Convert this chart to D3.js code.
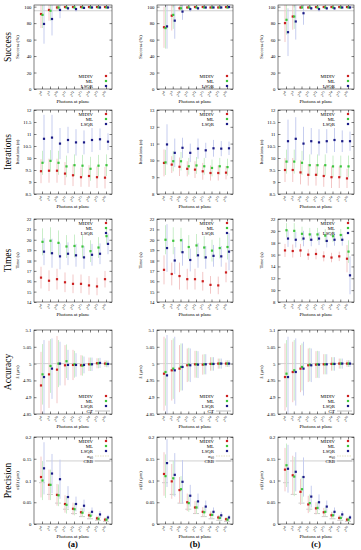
<!DOCTYPE html>
<html><head><meta charset="utf-8">
<script src="https://cdn.jsdelivr.net/npm/d3@7"></script>
<style>
body{margin:0;background:#fff}
svg{display:block;font-family:"Liberation Serif","DejaVu Serif",serif}
</style></head><body>
<svg id="chart" width="361" height="550"></svg>
<script>
// photons at plane: 2^8 ... 2^16
const exps = [8, 9, 10, 11, 12, 13, 14, 15, 16];

// each series: [mean, sd] per exponent
const succA_MIDIV = [[91,17],[96,13],[99,3],[99.5,1],[99.5,1],[99.5,1],[99.5,1],[99.5,0.5],[99.5,0.5]];
const succA_ML    = [[90,16],[95,12],[99,3],[99,1],[99,1],[99,1],[99,1],[99,1],[99,1]];
const succA_LSQR  = [[79,24],[85,20],[96,10],[98,2],[97,3],[98.5,1.5],[99,1],[99,1],[99,1]];
const succB_MIDIV = [[75,25],[89,18],[98,3],[99,1],[99.5,1],[99.5,1],[99,1],[99,1],[99.5,0.5]];
const succB_ML    = [[74,25],[90,17],[98,3],[99,1],[99,1],[99,1],[99,1],[99,1],[99,1]];
const succB_LSQR  = [[76,27],[83,22],[94,10],[97,3],[98,2],[99,1],[99,1],[99,1],[99.5,0.5]];
const succC_MIDIV = [[80,23],[88,16],[99,2],[99,1],[99.5,1],[99.5,1],[99.5,1],[99.5,1],[99.5,1]];
const succC_ML    = [[84,18],[88,15],[99,2],[99,1],[99,1],[99,1],[99,1],[99,1],[99,1]];
const succC_LSQR  = [[69,29],[82,22],[92,14],[98,2],[97,3],[98,2],[98,2],[99,1],[99,1]];

const iterA_MIDIV = [[9.45,0.5],[9.47,0.5],[9.47,0.5],[9.35,0.48],[9.28,0.45],[9.2,0.4],[9.25,0.45],[9.2,0.45],[9.18,0.45]];
const iterA_ML    = [[9.8,0.5],[9.88,0.45],[9.8,0.5],[9.65,0.45],[9.7,0.45],[9.68,0.45],[9.55,0.5],[9.68,0.45],[9.7,0.45]];
const iterA_LSQR  = [[10.8,1.0],[10.85,0.95],[10.6,0.65],[10.75,0.55],[10.65,0.55],[10.65,0.5],[10.75,0.5],[10.78,0.45],[10.68,0.35]];
const iterB_MIDIV = [[9.85,0.8],[9.75,0.5],[9.62,0.55],[9.5,0.45],[9.45,0.5],[9.35,0.5],[9.25,0.45],[9.25,0.45],[9.27,0.4]];
const iterB_ML    = [[9.88,0.75],[9.95,0.6],[9.95,0.55],[9.65,0.5],[9.7,0.5],[9.65,0.5],[9.55,0.5],[9.65,0.5],[9.6,0.5]];
const iterB_LSQR  = [[10.95,1.2],[10.45,0.85],[10.75,0.6],[10.45,0.55],[10.7,0.6],[10.6,0.45],[10.72,0.5],[10.7,0.45],[10.72,0.4]];
const iterC_MIDIV = [[9.5,0.5],[9.5,0.5],[9.4,0.5],[9.3,0.45],[9.3,0.45],[9.25,0.45],[9.2,0.45],[9.2,0.45],[9.15,0.4]];
const iterC_ML    = [[9.85,0.5],[9.85,0.5],[9.8,0.5],[9.7,0.45],[9.7,0.45],[9.7,0.45],[9.65,0.45],[9.65,0.45],[9.65,0.45]];
const iterC_LSQR  = [[10.7,0.9],[10.8,0.9],[10.6,0.7],[10.7,0.55],[10.65,0.55],[10.7,0.5],[10.75,0.5],[10.7,0.45],[10.7,0.4]];

const timeA_MIDIV = [[16.35,1.05],[16.05,1.0],[16.2,1.0],[15.9,0.95],[15.75,0.9],[15.75,0.9],[15.6,0.9],[15.5,0.85],[16.2,0.8]];
const timeA_ML    = [[19.8,1.3],[19.9,1.3],[19.7,1.2],[19.35,1.1],[19.4,1.1],[19.35,1.1],[18.9,1.05],[19.25,1.0],[20.35,0.8]];
const timeA_LSQR  = [[18.85,1.3],[18.7,1.4],[18.4,1.25],[18.65,1.1],[18.5,1.1],[18.3,1.1],[18.55,1.05],[18.65,1.0],[19.6,1.0]];
const timeB_MIDIV = [[17.1,1.4],[16.7,1.1],[16.5,1.3],[16.2,1.0],[16.2,1.0],[16.0,0.9],[15.65,0.85],[15.6,0.85],[16.85,0.95]];
const timeB_ML    = [[20.0,1.4],[19.9,1.3],[19.95,1.2],[19.3,1.15],[19.45,1.1],[19.25,1.1],[18.95,1.05],[19.2,1.0],[19.3,1.2]];
const timeB_LSQR  = [[19.2,2.3],[18.0,1.3],[18.8,1.3],[18.05,1.1],[18.5,1.2],[18.3,1.1],[18.45,1.05],[18.4,1.0],[18.85,1.8]];
const timeC_MIDIV = [[16.7,1.1],[16.6,1.1],[16.7,1.1],[16.0,0.9],[16.1,0.9],[15.7,0.85],[15.5,0.8],[15.7,0.8],[15.3,2.3]];
const timeC_ML    = [[20.1,1.2],[20.0,1.3],[19.5,1.2],[19.4,1.1],[19.4,1.1],[19.2,1.1],[19.1,1.0],[19.3,1.0],[16.5,1.9]];
const timeC_LSQR  = [[18.7,1.4],[18.5,1.3],[18.7,1.3],[18.5,1.1],[18.7,1.1],[18.3,1.1],[18.5,1.0],[18.5,1.0],[12.5,3.2]];

const accA_MIDIV = [[4.935,0.1],[4.968,0.1],[4.982,0.1],[4.995,0.06],[4.996,0.045],[4.995,0.03],[4.998,0.02],[5.001,0.015],[5.0,0.01]];
const accA_ML    = [[4.968,0.09],[4.993,0.08],[5.0,0.07],[5.007,0.05],[4.998,0.04],[4.994,0.03],[4.998,0.02],[5.001,0.015],[4.999,0.01]];
const accA_LSQR  = [[4.96,0.11],[4.985,0.09],[5.0,0.065],[4.996,0.045],[4.996,0.035],[4.996,0.025],[4.998,0.02],[5.002,0.015],[4.999,0.01]];
const accB_MIDIV = [[4.97,0.11],[4.98,0.09],[4.985,0.07],[4.995,0.05],[4.998,0.04],[4.997,0.03],[4.999,0.02],[5.0,0.015],[5.0,0.01]];
const accB_ML    = [[4.975,0.1],[4.985,0.09],[4.99,0.07],[4.997,0.05],[4.998,0.04],[4.998,0.03],[4.999,0.02],[5.0,0.015],[5.0,0.01]];
const accB_LSQR  = [[4.965,0.12],[4.98,0.1],[4.99,0.07],[4.995,0.05],[4.997,0.04],[4.998,0.03],[4.999,0.02],[5.0,0.015],[5.0,0.01]];
const accC_MIDIV = [[4.96,0.1],[4.975,0.09],[4.985,0.07],[4.995,0.05],[4.997,0.04],[4.998,0.03],[4.999,0.02],[5.0,0.015],[5.0,0.01]];
const accC_ML    = [[4.97,0.1],[4.98,0.09],[4.99,0.07],[4.997,0.05],[4.998,0.04],[4.998,0.03],[4.999,0.02],[5.0,0.015],[5.0,0.01]];
const accC_LSQR  = [[4.96,0.12],[4.975,0.1],[4.985,0.08],[4.995,0.05],[4.997,0.04],[4.998,0.03],[4.999,0.02],[5.0,0.015],[5.0,0.01]];

const precA_MIDIV = [[0.108,0.047],[0.09,0.035],[0.067,0.025],[0.046,0.02],[0.035,0.014],[0.027,0.01],[0.02,0.008],[0.013,0.006],[0.01,0.005]];
const precA_ML    = [[0.1,0.045],[0.09,0.035],[0.066,0.025],[0.044,0.02],[0.034,0.014],[0.026,0.01],[0.019,0.008],[0.012,0.006],[0.01,0.005]];
const precA_LSQR  = [[0.128,0.06],[0.116,0.045],[0.103,0.045],[0.062,0.025],[0.046,0.017],[0.042,0.014],[0.028,0.01],[0.022,0.008],[0.015,0.006]];
const precB_MIDIV = [[0.115,0.05],[0.098,0.04],[0.078,0.03],[0.05,0.02],[0.038,0.015],[0.028,0.011],[0.021,0.008],[0.015,0.006],[0.011,0.005]];
const precB_ML    = [[0.11,0.05],[0.105,0.04],[0.08,0.03],[0.048,0.02],[0.038,0.015],[0.027,0.011],[0.021,0.008],[0.014,0.006],[0.01,0.005]];
const precB_LSQR  = [[0.14,0.055],[0.113,0.05],[0.097,0.05],[0.065,0.025],[0.052,0.018],[0.04,0.014],[0.028,0.01],[0.02,0.008],[0.015,0.006]];
const precC_MIDIV = [[0.125,0.05],[0.112,0.045],[0.074,0.03],[0.045,0.02],[0.036,0.014],[0.027,0.01],[0.02,0.008],[0.014,0.006],[0.01,0.005]];
const precC_ML    = [[0.135,0.05],[0.109,0.045],[0.08,0.03],[0.048,0.02],[0.037,0.014],[0.028,0.01],[0.02,0.008],[0.014,0.006],[0.01,0.005]];
const precC_LSQR  = [[0.127,0.055],[0.12,0.045],[0.108,0.045],[0.063,0.025],[0.05,0.018],[0.04,0.014],[0.028,0.01],[0.022,0.008],[0.015,0.006]];
const crb = [0.095, 0.068, 0.048, 0.034, 0.024, 0.017, 0.012, 0.0085, 0.006];

// tick labels
const succTicks = [0, 20, 40, 60, 80, 100];
const iterTicksA = [8.5, 9, 9.5, 10, 10.5, 11, 11.5, 12];
const iterTicksB = [8, 9, 10, 11, 12, 13];
const iterTicksC = [8.5, 9, 9.5, 10, 10.5, 11, 11.5, 12];
const timeTicksAB = [14, 15, 16, 17, 18, 19, 20, 21, 22];
const timeTicksC = [8, 10, 12, 14, 16, 18, 20, 22];
const accTicks = [4.85, 4.9, 4.95, 5, 5.05, 5.1];
const precTicks = [0, 0.05, 0.1, 0.15, 0.2];

const names = ['MIDIV', 'ML', 'LSQR'];
const dotColor = ['#cc1f1f', '#3cc43c', '#1b1b86'];
const barColor = ['#f3c6c6', '#c9eec9', '#c6cdef'];
const offs = [-1, 0.5, 2];

const colBox = [{x0: 34, x1: 112}, {x0: 157, x1: 233}, {x0: 278, x1: 354}];
const rowBox = [{y0: 5, y1: 89}, {y0: 110, y1: 194}, {y0: 219, y1: 302}, {y0: 330, y1: 414}, {y0: 437, y1: 524}];

const rowsSpec = [
  {label: 'Success', ylab: 'Success (%)', legend: 'bottom', ref: 95, extra: [],
   cols: [[succTicks, [0, 102], [succA_MIDIV, succA_ML, succA_LSQR]],
          [succTicks, [0, 102], [succB_MIDIV, succB_ML, succB_LSQR]],
          [succTicks, [0, 102], [succC_MIDIV, succC_ML, succC_LSQR]]]},
  {label: 'Iterations', ylab: 'Iterations (n)', legend: 'top', extra: [],
   cols: [[iterTicksA, null, [iterA_MIDIV, iterA_ML, iterA_LSQR]],
          [iterTicksB, null, [iterB_MIDIV, iterB_ML, iterB_LSQR]],
          [iterTicksC, null, [iterC_MIDIV, iterC_ML, iterC_LSQR]]]},
  {label: 'Times', ylab: 'Time (s)', legend: 'top', extra: [],
   cols: [[timeTicksAB, null, [timeA_MIDIV, timeA_ML, timeA_LSQR]],
          [timeTicksAB, null, [timeB_MIDIV, timeB_ML, timeB_LSQR]],
          [timeTicksC, null, [timeC_MIDIV, timeC_ML, timeC_LSQR]]]},
  {label: 'Accuracy', ylab: 'ẑ (µm)', legend: 'bottom', ref: 5, extra: ['GT'],
   cols: [[accTicks, null, [accA_MIDIV, accA_ML, accA_LSQR]],
          [accTicks, null, [accB_MIDIV, accB_ML, accB_LSQR]],
          [accTicks, null, [accC_MIDIV, accC_ML, accC_LSQR]]]},
  {label: 'Precision', ylab: 'σ(ẑ) (µm)', legend: 'top', ref: 0.145, crb: true, extra: ['σ', 'CRB'],
   cols: [[precTicks, null, [precA_MIDIV, precA_ML, precA_LSQR]],
          [precTicks, null, [precB_MIDIV, precB_ML, precB_LSQR]],
          [precTicks, null, [precC_MIDIV, precC_ML, precC_LSQR]]]}
];

const svg = d3.select('#chart');
const fmt = d => String(+d.toFixed(3));

rowsSpec.forEach((row, ri) => {
  const rb = rowBox[ri];
  svg.append('text')
    .attr('transform', `translate(11,${(rb.y0 + rb.y1) / 2}) rotate(-90)`)
    .attr('text-anchor', 'middle').attr('font-size', 9.5)
    .text(row.label);

  row.cols.forEach((c, ci) => {
    const cb = colBox[ci];
    const [ticks, dom, series] = c;
    const x = d3.scalePoint().domain(exps).range([cb.x0 + 8, cb.x1 - 6]);
    const y = d3.scaleLinear().domain(dom || [ticks[0], ticks[ticks.length - 1]])
      .range([rb.y1, rb.y0]).clamp(true);
    const g = svg.append('g');

    // y axis left + mirror
    const ya = g.append('g').attr('transform', `translate(${cb.x0},0)`)
      .call(d3.axisLeft(y).tickValues(ticks).tickSize(-2.5).tickPadding(2.5).tickFormat(fmt));
    ya.select('.domain').remove();
    ya.selectAll('text').attr('font-size', 4.8).attr('font-family', 'Liberation Serif');
    ya.selectAll('line').attr('stroke-width', 0.5);
    const yr = g.append('g').attr('transform', `translate(${cb.x1},0)`)
      .call(d3.axisRight(y).tickValues(ticks).tickSize(-2.5).tickFormat(''));
    yr.select('.domain').remove();
    yr.selectAll('line').attr('stroke-width', 0.5);

    // x ticks bottom + top
    const xb = g.append('g').attr('transform', `translate(0,${rb.y1})`)
      .call(d3.axisBottom(x).tickSize(-2.5).tickFormat(''));
    xb.select('.domain').remove();
    xb.selectAll('line').attr('stroke-width', 0.5);
    const xt = g.append('g').attr('transform', `translate(0,${rb.y0})`)
      .call(d3.axisTop(x).tickSize(-2.5).tickFormat(''));
    xt.select('.domain').remove();
    xt.selectAll('line').attr('stroke-width', 0.5);

    exps.forEach(e => {
      const t = g.append('text')
        .attr('transform', `translate(${x(e) + 1.5},${rb.y1 + 4.5}) rotate(-45)`)
        .attr('text-anchor', 'end').attr('font-size', 4.4);
      t.append('tspan').text('2');
      t.append('tspan').attr('dy', -2).attr('font-size', 3.2).text(e);
    });

    g.append('text')
      .attr('x', (cb.x0 + cb.x1) / 2).attr('y', rb.y1 + 13.5)
      .attr('text-anchor', 'middle').attr('font-size', 5).text('Photons at plane');

    g.append('text')
      .attr('transform', `translate(${cb.x0 - 15},${(rb.y0 + rb.y1) / 2}) rotate(-90)`)
      .attr('text-anchor', 'middle').attr('font-size', 4.8).text(row.ylab);

    // reference line
    if (row.ref != null) {
      g.append('line')
        .attr('x1', row.crb ? x(8) + 4 : cb.x0).attr('x2', cb.x1)
        .attr('y1', y(row.ref)).attr('y2', y(row.ref))
        .attr('stroke', '#b0b0b0').attr('stroke-width', 0.6);
    }

    if (row.crb) {
      g.selectAll(null).data(crb).join('line')
        .attr('x1', (d, i) => x(exps[i]) - 3).attr('x2', (d, i) => x(exps[i]) + 3)
        .attr('y1', d => y(d)).attr('y2', d => y(d))
        .attr('stroke', '#a8a8a8').attr('stroke-width', 0.6);
    }

    // error bars
    series.forEach((s, si) => {
      g.selectAll(null).data(s).join('line')
        .attr('x1', (d, i) => x(exps[i]) + offs[si]).attr('x2', (d, i) => x(exps[i]) + offs[si])
        .attr('y1', d => y(d[0] - d[1])).attr('y2', d => y(d[0] + d[1]))
        .attr('stroke', barColor[si]).attr('stroke-width', 1);
    });
    series.forEach((s, si) => {
      g.selectAll(null).data(s).join('rect')
        .attr('x', (d, i) => x(exps[i]) + offs[si] - 1.1)
        .attr('y', d => y(d[0]) - 1.1)
        .attr('width', 2.2).attr('height', 2.2)
        .attr('fill', dotColor[si]);
    });

    // legend
    const entries = names.map((n, i) => ({n, i})).concat(row.extra.map(n => ({n, line: true})));
    const ly0 = row.legend === 'top' ? rb.y0 + 4 : rb.y1 - 3 - (entries.length - 1) * 5;
    entries.forEach((en, k) => {
      const ly = ly0 + k * 5;
      const tx = g.append('text').attr('x', cb.x1 - 19).attr('y', ly + 1.6)
        .attr('text-anchor', 'end').attr('font-size', 4.8);
      if (en.n === 'σ') {
        tx.append('tspan').text('σ');
        tx.append('tspan').attr('dy', 1.2).attr('font-size', 3.4).text('x̂0');
      } else tx.text(en.n);
      if (en.line) {
        g.append('line').attr('x1', cb.x1 - 17).attr('x2', cb.x1 - 2)
          .attr('y1', ly).attr('y2', ly)
          .attr('stroke', en.n === 'σ' ? '#d8d2a8' : '#a8a8a8')
          .attr('stroke-dasharray', en.n === 'σ' ? '1.5,1' : null)
          .attr('stroke-width', 0.7);
      } else {
        g.append('rect').attr('x', cb.x1 - 7.1).attr('y', ly - 1.1)
          .attr('width', 2.2).attr('height', 2.2).attr('fill', dotColor[en.i]);
      }
    });

    // frame
    g.append('rect').attr('x', cb.x0).attr('y', rb.y0)
      .attr('width', cb.x1 - cb.x0).attr('height', rb.y1 - rb.y0)
      .attr('fill', 'none').attr('stroke', '#000').attr('stroke-width', 0.5);
  });
});

['(a)', '(b)', '(c)'].forEach((s, i) => {
  svg.append('text').attr('x', (colBox[i].x0 + colBox[i].x1) / 2).attr('y', 547)
    .attr('text-anchor', 'middle').attr('font-size', 8.5).attr('font-weight', 'bold').text(s);
});
</script>
</body></html>
